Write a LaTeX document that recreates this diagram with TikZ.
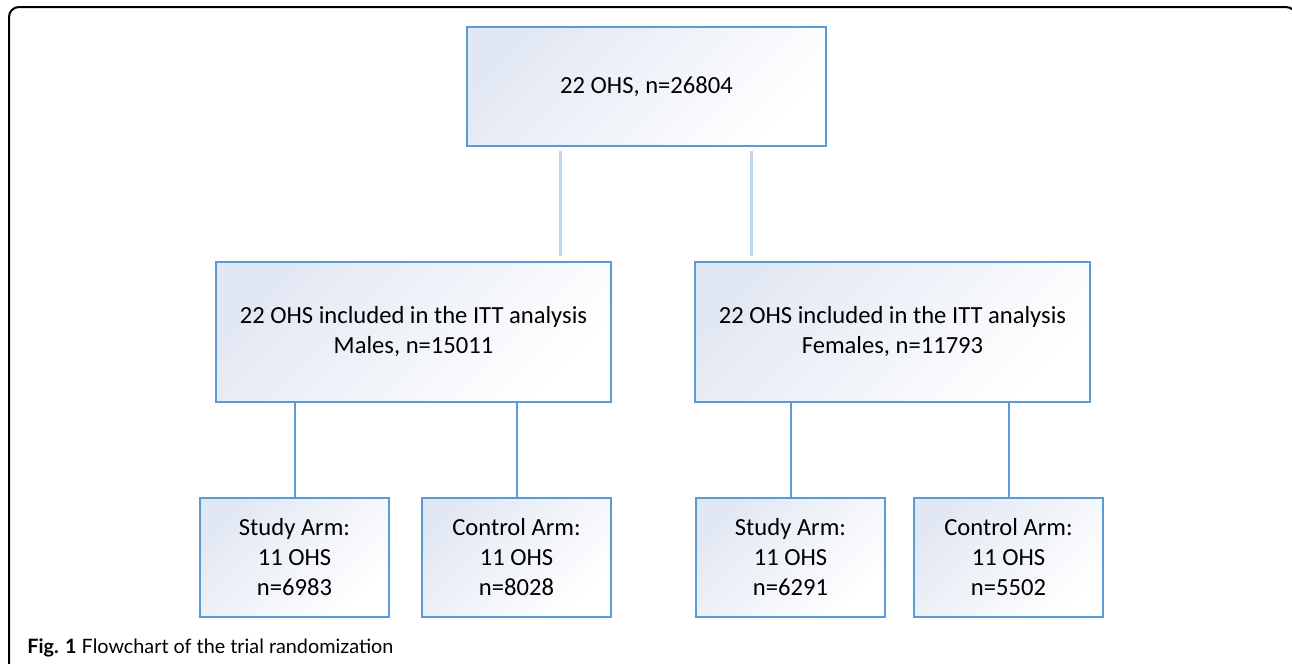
\documentclass[tikz,border=0pt]{standalone}
\usepackage{fontspec}
\setmainfont{Carlito}
\newfontfamily\capfont{Lato}
\begin{document}
\begin{tikzpicture}[x=0.5pt, y=-0.5pt]
\definecolor{boxline}{HTML}{5B9BD5}
\definecolor{boxtint}{HTML}{E2E8F3}
\definecolor{paleline}{HTML}{BDD7EE}
\tikzset{
  box/.style = {draw = boxline, line width = 1pt, top color = boxtint, bottom color = white, shading angle = 45, align = center, font = \fontsize{12.3}{15}\selectfont, inner sep = 0pt},
  wide/.style = {box, minimum width = 197.5pt, minimum height = 70pt},
  arm/.style = {box, minimum width = 94.5pt, minimum height = 59.5pt},
  link/.style = {draw = boxline, line width = 1pt},
  palelink/.style = {draw = paleline, line width = 1.5pt}
}
\useasboundingbox (0,0) rectangle (1292,664);
\begin{scope}
\clip (0,0) rectangle (1292,664);
\draw[line width = 1pt, rounded corners = 5pt] (9,670) -- (9,7) -- (1296,7) -- (1296,670);
\end{scope}
% boxes
\node[box, minimum width = 179.5pt, minimum height = 59.5pt] (total) at (646.5,86.5) {22 OHS, n=26804};
\node[wide] (males) at (413.5,332) {22 OHS included in the ITT analysis\\Males, n=15011};
\node[wide] (females) at (892.5,332) {22 OHS included in the ITT analysis\\Females, n=11793};
\node[arm] (mstudy) at (294.5,557.5) {Study Arm:\\11 OHS\\n=6983};
\node[arm] (mcontrol) at (516.5,557.5) {Control Arm:\\11 OHS\\n=8028};
\node[arm] (fstudy) at (790.5,557.5) {Study Arm:\\11 OHS\\n=6291};
\node[arm] (fcontrol) at (1008.5,557.5) {Control Arm:\\11 OHS\\n=5502};
% connectors
\coordinate (ml) at (560,0);
\coordinate (fl) at (751,0);
\draw[palelink, shorten < = 2pt, shorten > = 2.5pt] (total.south -| ml) -- (males.north -| ml);
\draw[palelink, shorten < = 2pt, shorten > = 2.5pt] (total.south -| fl) -- (females.north -| fl);
\draw[link] (males.south -| mstudy) -- (mstudy.north);
\draw[link] (males.south -| mcontrol) -- (mcontrol.north);
\draw[link] (females.south -| fstudy) -- (fstudy.north);
\draw[link] (females.south -| fcontrol) -- (fcontrol.north);
% caption
\node[anchor = base west, inner sep = 0pt, font = \capfont\fontsize{9.9}{11}\selectfont] (caption) at (27,653) {\textbf{Fig. 1} Flowchart of the trial randomization};
\end{tikzpicture}
\end{document}
